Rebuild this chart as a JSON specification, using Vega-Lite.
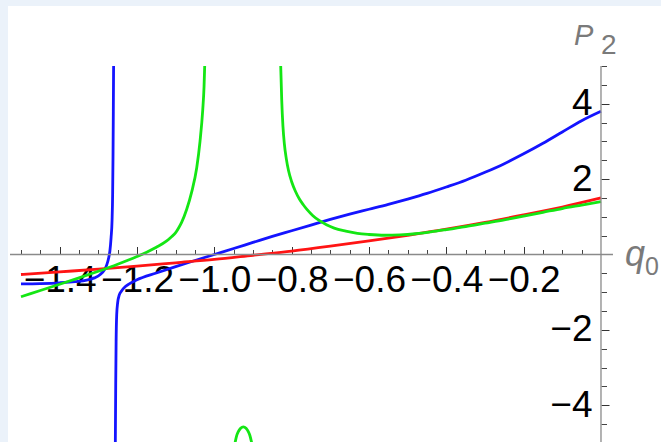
{
  "$schema": "https://vega.github.io/schema/vega-lite/v6.json",
  "width": 653,
  "height": 436,
  "autosize": {"type": "none"},
  "padding": {"left": 8, "top": 6, "right": 0, "bottom": 0},
  "background": "#ebf2fa",
  "config": {"view": {"fill": "white", "stroke": null}},
  "datasets": {
    "curves": [
      {"sol": "s1", "branch": "s1a", "q": -1.50, "p": -0.78},
      {"sol": "s1", "branch": "s1a", "q": -1.45, "p": -0.77},
      {"sol": "s1", "branch": "s1a", "q": -1.40, "p": -0.75},
      {"sol": "s1", "branch": "s1a", "q": -1.36, "p": -0.72},
      {"sol": "s1", "branch": "s1a", "q": -1.33, "p": -0.68},
      {"sol": "s1", "branch": "s1a", "q": -1.31, "p": -0.62},
      {"sol": "s1", "branch": "s1a", "q": -1.295, "p": -0.53},
      {"sol": "s1", "branch": "s1a", "q": -1.285, "p": -0.42},
      {"sol": "s1", "branch": "s1a", "q": -1.278, "p": -0.27},
      {"sol": "s1", "branch": "s1a", "q": -1.273, "p": -0.08},
      {"sol": "s1", "branch": "s1a", "q": -1.270, "p": 0.10},
      {"sol": "s1", "branch": "s1a", "q": -1.267, "p": 0.45},
      {"sol": "s1", "branch": "s1a", "q": -1.2645, "p": 0.90},
      {"sol": "s1", "branch": "s1a", "q": -1.2630, "p": 1.6},
      {"sol": "s1", "branch": "s1a", "q": -1.2620, "p": 2.6},
      {"sol": "s1", "branch": "s1a", "q": -1.2612, "p": 3.8},
      {"sol": "s1", "branch": "s1a", "q": -1.2605, "p": 5.0},
      {"sol": "s1", "branch": "s1b", "q": -1.2560, "p": -5.0},
      {"sol": "s1", "branch": "s1b", "q": -1.2550, "p": -3.4},
      {"sol": "s1", "branch": "s1b", "q": -1.2540, "p": -2.3},
      {"sol": "s1", "branch": "s1b", "q": -1.2525, "p": -1.6},
      {"sol": "s1", "branch": "s1b", "q": -1.2500, "p": -1.28},
      {"sol": "s1", "branch": "s1b", "q": -1.2460, "p": -1.08},
      {"sol": "s1", "branch": "s1b", "q": -1.2400, "p": -0.97},
      {"sol": "s1", "branch": "s1b", "q": -1.2300, "p": -0.85},
      {"sol": "s1", "branch": "s1b", "q": -1.2200, "p": -0.78},
      {"sol": "s1", "branch": "s1b", "q": -1.2000, "p": -0.67},
      {"sol": "s1", "branch": "s1b", "q": -1.1500, "p": -0.49},
      {"sol": "s1", "branch": "s1b", "q": -1.1000, "p": -0.32},
      {"sol": "s1", "branch": "s1b", "q": -1.0500, "p": -0.16},
      {"sol": "s1", "branch": "s1b", "q": -1.0000, "p": 0.00},
      {"sol": "s1", "branch": "s1b", "q": -0.9500, "p": 0.16},
      {"sol": "s1", "branch": "s1b", "q": -0.9000, "p": 0.32},
      {"sol": "s1", "branch": "s1b", "q": -0.8500, "p": 0.48},
      {"sol": "s1", "branch": "s1b", "q": -0.8000, "p": 0.63},
      {"sol": "s1", "branch": "s1b", "q": -0.7500, "p": 0.78},
      {"sol": "s1", "branch": "s1b", "q": -0.7000, "p": 0.93},
      {"sol": "s1", "branch": "s1b", "q": -0.6500, "p": 1.07},
      {"sol": "s1", "branch": "s1b", "q": -0.6000, "p": 1.20},
      {"sol": "s1", "branch": "s1b", "q": -0.5500, "p": 1.33},
      {"sol": "s1", "branch": "s1b", "q": -0.5000, "p": 1.47},
      {"sol": "s1", "branch": "s1b", "q": -0.4500, "p": 1.62},
      {"sol": "s1", "branch": "s1b", "q": -0.4000, "p": 1.79},
      {"sol": "s1", "branch": "s1b", "q": -0.3500, "p": 1.97},
      {"sol": "s1", "branch": "s1b", "q": -0.3000, "p": 2.18},
      {"sol": "s1", "branch": "s1b", "q": -0.2500, "p": 2.41},
      {"sol": "s1", "branch": "s1b", "q": -0.2000, "p": 2.67},
      {"sol": "s1", "branch": "s1b", "q": -0.1500, "p": 2.95},
      {"sol": "s1", "branch": "s1b", "q": -0.1000, "p": 3.25},
      {"sol": "s1", "branch": "s1b", "q": -0.0500, "p": 3.55},
      {"sol": "s1", "branch": "s1b", "q": 0.0000, "p": 3.80},

      {"sol": "s2", "branch": "s2a", "q": -1.5, "p": -0.53},
      {"sol": "s2", "branch": "s2a", "q": -1.4, "p": -0.46},
      {"sol": "s2", "branch": "s2a", "q": -1.3, "p": -0.39},
      {"sol": "s2", "branch": "s2a", "q": -1.2, "p": -0.31},
      {"sol": "s2", "branch": "s2a", "q": -1.1, "p": -0.22},
      {"sol": "s2", "branch": "s2a", "q": -1.0, "p": -0.13},
      {"sol": "s2", "branch": "s2a", "q": -0.9, "p": -0.02},
      {"sol": "s2", "branch": "s2a", "q": -0.8, "p": 0.09},
      {"sol": "s2", "branch": "s2a", "q": -0.7, "p": 0.22},
      {"sol": "s2", "branch": "s2a", "q": -0.6, "p": 0.36},
      {"sol": "s2", "branch": "s2a", "q": -0.5, "p": 0.51},
      {"sol": "s2", "branch": "s2a", "q": -0.4, "p": 0.67},
      {"sol": "s2", "branch": "s2a", "q": -0.3, "p": 0.85},
      {"sol": "s2", "branch": "s2a", "q": -0.2, "p": 1.05},
      {"sol": "s2", "branch": "s2a", "q": -0.1, "p": 1.26},
      {"sol": "s2", "branch": "s2a", "q": 0.0, "p": 1.50},

      {"sol": "s3", "branch": "s3a", "q": -1.50, "p": -1.12},
      {"sol": "s3", "branch": "s3a", "q": -1.45, "p": -0.955},
      {"sol": "s3", "branch": "s3a", "q": -1.40, "p": -0.79},
      {"sol": "s3", "branch": "s3a", "q": -1.35, "p": -0.62},
      {"sol": "s3", "branch": "s3a", "q": -1.30, "p": -0.444},
      {"sol": "s3", "branch": "s3a", "q": -1.25, "p": -0.258},
      {"sol": "s3", "branch": "s3a", "q": -1.20, "p": -0.053},
      {"sol": "s3", "branch": "s3a", "q": -1.175, "p": 0.061},
      {"sol": "s3", "branch": "s3a", "q": -1.15, "p": 0.191},
      {"sol": "s3", "branch": "s3a", "q": -1.125, "p": 0.346},
      {"sol": "s3", "branch": "s3a", "q": -1.112, "p": 0.46},
      {"sol": "s3", "branch": "s3a", "q": -1.10, "p": 0.58},
      {"sol": "s3", "branch": "s3a", "q": -1.092, "p": 0.71},
      {"sol": "s3", "branch": "s3a", "q": -1.0843, "p": 0.86},
      {"sol": "s3", "branch": "s3a", "q": -1.0714, "p": 1.20},
      {"sol": "s3", "branch": "s3a", "q": -1.0585, "p": 1.66},
      {"sol": "s3", "branch": "s3a", "q": -1.0455, "p": 2.30},
      {"sol": "s3", "branch": "s3a", "q": -1.0370, "p": 3.00},
      {"sol": "s3", "branch": "s3a", "q": -1.0300, "p": 3.83},
      {"sol": "s3", "branch": "s3a", "q": -1.0266, "p": 4.45},
      {"sol": "s3", "branch": "s3a", "q": -1.0249, "p": 5.0},
      {"sol": "s3", "branch": "s3b", "q": -0.9465, "p": -5.0},
      {"sol": "s3", "branch": "s3b", "q": -0.9420, "p": -4.80},
      {"sol": "s3", "branch": "s3b", "q": -0.9380, "p": -4.70},
      {"sol": "s3", "branch": "s3b", "q": -0.9320, "p": -4.61},
      {"sol": "s3", "branch": "s3b", "q": -0.9250, "p": -4.57},
      {"sol": "s3", "branch": "s3b", "q": -0.9180, "p": -4.61},
      {"sol": "s3", "branch": "s3b", "q": -0.9121, "p": -4.70},
      {"sol": "s3", "branch": "s3b", "q": -0.9080, "p": -4.80},
      {"sol": "s3", "branch": "s3b", "q": -0.9033, "p": -5.0},
      {"sol": "s3", "branch": "s3c", "q": -0.8283, "p": 5.0},
      {"sol": "s3", "branch": "s3c", "q": -0.8257, "p": 4.1},
      {"sol": "s3", "branch": "s3c", "q": -0.8225, "p": 3.4},
      {"sol": "s3", "branch": "s3c", "q": -0.8190, "p": 2.95},
      {"sol": "s3", "branch": "s3c", "q": -0.8140, "p": 2.55},
      {"sol": "s3", "branch": "s3c", "q": -0.8080, "p": 2.22},
      {"sol": "s3", "branch": "s3c", "q": -0.8000, "p": 1.93},
      {"sol": "s3", "branch": "s3c", "q": -0.7900, "p": 1.67},
      {"sol": "s3", "branch": "s3c", "q": -0.7800, "p": 1.47},
      {"sol": "s3", "branch": "s3c", "q": -0.7700, "p": 1.32},
      {"sol": "s3", "branch": "s3c", "q": -0.7600, "p": 1.19},
      {"sol": "s3", "branch": "s3c", "q": -0.7450, "p": 1.03},
      {"sol": "s3", "branch": "s3c", "q": -0.7300, "p": 0.91},
      {"sol": "s3", "branch": "s3c", "q": -0.7100, "p": 0.79},
      {"sol": "s3", "branch": "s3c", "q": -0.6900, "p": 0.70},
      {"sol": "s3", "branch": "s3c", "q": -0.6600, "p": 0.62},
      {"sol": "s3", "branch": "s3c", "q": -0.6300, "p": 0.56},
      {"sol": "s3", "branch": "s3c", "q": -0.6000, "p": 0.53},
      {"sol": "s3", "branch": "s3c", "q": -0.5600, "p": 0.51},
      {"sol": "s3", "branch": "s3c", "q": -0.5200, "p": 0.52},
      {"sol": "s3", "branch": "s3c", "q": -0.4800, "p": 0.55},
      {"sol": "s3", "branch": "s3c", "q": -0.4400, "p": 0.60},
      {"sol": "s3", "branch": "s3c", "q": -0.4000, "p": 0.66},
      {"sol": "s3", "branch": "s3c", "q": -0.3500, "p": 0.74},
      {"sol": "s3", "branch": "s3c", "q": -0.3000, "p": 0.83},
      {"sol": "s3", "branch": "s3c", "q": -0.2500, "p": 0.92},
      {"sol": "s3", "branch": "s3c", "q": -0.2000, "p": 1.02},
      {"sol": "s3", "branch": "s3c", "q": -0.1500, "p": 1.12},
      {"sol": "s3", "branch": "s3c", "q": -0.1000, "p": 1.22},
      {"sol": "s3", "branch": "s3c", "q": -0.0500, "p": 1.31},
      {"sol": "s3", "branch": "s3c", "q": 0.0000, "p": 1.40}
    ]
  },
  "resolve": {"axis": {"x": "independent", "y": "independent"}},
  "layer": [
    {
      "description": "minor ticks on both axes (invisible carrier mark)",
      "data": {"name": "curves"},
      "mark": {"type": "line", "opacity": 0},
      "encoding": {
        "x": {
          "field": "q", "type": "quantitative",
          "scale": {"domain": [-1.5336, 0.1552], "nice": false, "zero": false},
          "axis": {
            "orient": "top", "offset": -248.5, "title": null, "domain": false, "grid": false, "labels": false,
            "tickSize": 5, "tickColor": "#444", "tickWidth": 1,
            "values": [-1.5, -1.45, -1.35, -1.3, -1.25, -1.15, -1.1, -1.05, -0.95, -0.9, -0.85, -0.75, -0.7, -0.65, -0.55, -0.5, -0.45, -0.35, -0.3, -0.25, -0.15, -0.1, -0.05]
          }
        },
        "y": {
          "field": "p", "type": "quantitative",
          "scale": {"domain": [-4.9735, 6.5915], "nice": false, "zero": false},
          "axis": {
            "orient": "right", "offset": -60, "title": null, "domain": false, "grid": false, "labels": false,
            "tickSize": 5.5, "tickColor": "#444", "tickWidth": 1,
            "values": [-5, -4.5, -3.5, -3, -2.5, -1.5, -1, -0.5, 0.5, 1, 1.5, 2.5, 3, 3.5, 4.5, 5]
          }
        },
        "detail": {"field": "branch"}
      }
    },
    {
      "description": "major ticks with labels, and the three solution curves",
      "data": {"name": "curves"},
      "mark": {"type": "line", "interpolate": "monotone", "strokeWidth": 2.8, "clip": true},
      "encoding": {
        "x": {
          "field": "q", "type": "quantitative",
          "scale": {"domain": [-1.5336, 0.1552], "nice": false, "zero": false},
          "axis": {
            "orient": "top", "offset": -248.5, "title": null, "domain": false, "grid": false,
            "tickSize": 8, "tickColor": "#333", "tickWidth": 1,
            "values": [-1.4, -1.2, -1.0, -0.8, -0.6, -0.4, -0.2],
            "format": ".1f",
            "labelPadding": -16, "labelBaseline": "top", "labelAlign": "center",
            "labelFont": "Liberation Sans", "labelFontSize": 37, "labelColor": "#000",
            "labelOverlap": false, "labelFlush": false, "labelBound": false
          }
        },
        "y": {
          "field": "p", "type": "quantitative",
          "scale": {"domain": [-4.9735, 6.5915], "nice": false, "zero": false},
          "axis": {
            "orient": "right", "offset": -60, "title": null, "domain": false, "grid": false,
            "tickSize": 8, "tickColor": "#333", "tickWidth": 1,
            "values": [-4, -2, 2, 4],
            "format": "d",
            "labelPadding": -17, "labelAlign": "right", "labelBaseline": "middle",
            "labelFont": "Liberation Sans", "labelFontSize": 37, "labelColor": "#000",
            "labelOverlap": false, "labelFlush": false, "labelBound": false
          }
        },
        "color": {
          "field": "sol", "type": "nominal", "legend": null,
          "scale": {"domain": ["s1", "s2", "s3"], "range": ["#1414ff", "#ff1414", "#14e614"]}
        },
        "detail": {"field": "branch"}
      }
    },
    {
      "description": "horizontal axis line",
      "data": {"values": [{}]},
      "mark": {"type": "rule", "color": "#8a8a8a", "strokeWidth": 1.3},
      "encoding": {
        "x": {"datum": -1.5284, "type": "quantitative", "scale": {"domain": [-1.5336, 0.1552], "nice": false, "zero": false}, "axis": null},
        "x2": {"datum": 0.031},
        "y": {"datum": 0, "type": "quantitative", "scale": {"domain": [-4.9735, 6.5915], "nice": false, "zero": false}, "axis": null}
      }
    },
    {
      "description": "vertical axis line",
      "data": {"values": [{}]},
      "mark": {"type": "rule", "color": "#8a8a8a", "strokeWidth": 1.3},
      "encoding": {
        "x": {"datum": 0, "type": "quantitative", "scale": {"domain": [-1.5336, 0.1552], "nice": false, "zero": false}, "axis": null},
        "y": {"datum": -5, "type": "quantitative", "scale": {"domain": [-4.9735, 6.5915], "nice": false, "zero": false}, "axis": null},
        "y2": {"datum": 5}
      }
    },
    {
      "description": "vertical axis title P",
      "data": {"values": [{}]},
      "mark": {"type": "text", "text": "P", "font": "Liberation Sans", "fontStyle": "italic", "fontSize": 29, "color": "#7a7a7a", "align": "left", "baseline": "alphabetic", "dx": -27, "dy": -21},
      "encoding": {
        "x": {"datum": 0, "type": "quantitative", "scale": {"domain": [-1.5336, 0.1552], "nice": false, "zero": false}, "axis": null},
        "y": {"datum": 5, "type": "quantitative", "scale": {"domain": [-4.9735, 6.5915], "nice": false, "zero": false}, "axis": null}
      }
    },
    {
      "description": "vertical axis title subscript",
      "data": {"values": [{}]},
      "mark": {"type": "text", "text": "2", "font": "Liberation Sans", "fontSize": 28, "color": "#7a7a7a", "align": "left", "baseline": "alphabetic", "dx": 0, "dy": -12},
      "encoding": {
        "x": {"datum": 0, "type": "quantitative", "scale": {"domain": [-1.5336, 0.1552], "nice": false, "zero": false}, "axis": null},
        "y": {"datum": 5, "type": "quantitative", "scale": {"domain": [-4.9735, 6.5915], "nice": false, "zero": false}, "axis": null}
      }
    },
    {
      "description": "horizontal axis title q",
      "data": {"values": [{}]},
      "mark": {"type": "text", "text": "q", "font": "Liberation Sans", "fontStyle": "italic", "fontSize": 36, "color": "#7a7a7a", "align": "left", "baseline": "alphabetic", "dx": 24, "dy": 12},
      "encoding": {
        "x": {"datum": 0, "type": "quantitative", "scale": {"domain": [-1.5336, 0.1552], "nice": false, "zero": false}, "axis": null},
        "y": {"datum": 0, "type": "quantitative", "scale": {"domain": [-4.9735, 6.5915], "nice": false, "zero": false}, "axis": null}
      }
    },
    {
      "description": "horizontal axis title subscript",
      "data": {"values": [{}]},
      "mark": {"type": "text", "text": "0", "font": "Liberation Sans", "fontSize": 25, "color": "#7a7a7a", "align": "left", "baseline": "alphabetic", "dx": 44, "dy": 21},
      "encoding": {
        "x": {"datum": 0, "type": "quantitative", "scale": {"domain": [-1.5336, 0.1552], "nice": false, "zero": false}, "axis": null},
        "y": {"datum": 0, "type": "quantitative", "scale": {"domain": [-4.9735, 6.5915], "nice": false, "zero": false}, "axis": null}
      }
    }
  ]
}
